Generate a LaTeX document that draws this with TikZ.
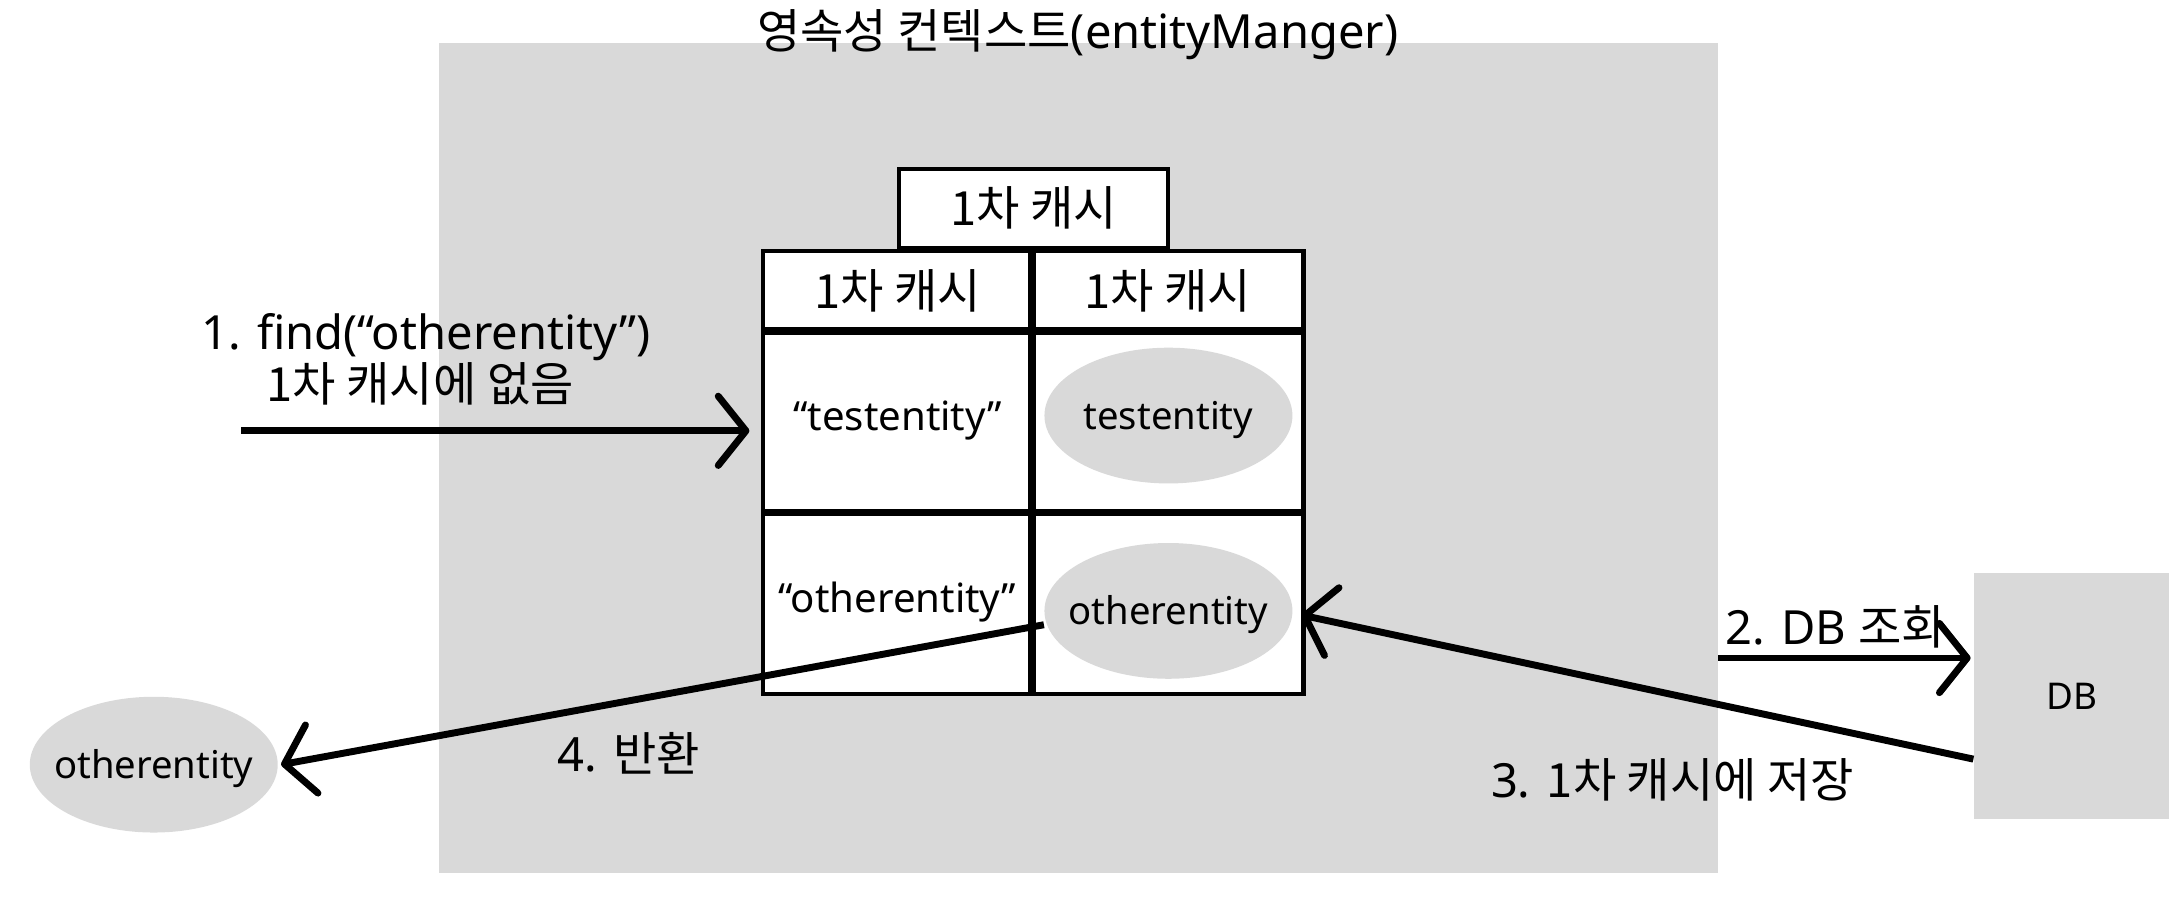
\documentclass[tikz,border=0pt]{standalone}
\usepackage{fontspec}
\setmainfont{Noto Sans}
\newfontfamily\kr{Noto Sans CJK KR}
\usetikzlibrary{arrows.meta,shapes.geometric}
\definecolor{bggray}{HTML}{D9D9D9}
\tikzset{
  lbl/.style={anchor=base west, inner sep=0pt, font=\fontsize{17pt}{20pt}\selectfont},
  hdrtxt/.style={anchor=base, inner sep=0pt, font=\fontsize{17pt}{20pt}\selectfont},
  celltxt/.style={anchor=base, inner sep=0pt, font=\fontsize{14.5pt}{17pt}\selectfont},
  ent/.style={ellipse, fill=bggray, inner sep=0pt, minimum width=89.5pt, minimum height=49pt,
    label={[font=\fontsize{13.8pt}{16pt}\selectfont, inner sep=0pt, yshift=-1.5pt]center:#1}},
  arr/.style={line width=2.5pt, -{Straight Barb[length=10pt,width=25pt,round]}},
  thick line/.style={line width=2.7pt},
}
\begin{document}
\begin{tikzpicture}[x=0.5pt,y=-0.5pt]
\useasboundingbox (0,0) rectangle (1568,650);
% persistence context
\node[fill=bggray, minimum width=461.5pt, minimum height=299.5pt, inner sep=0pt] (ctx) at (778.5,330.5) {};
\node[anchor=base, inner sep=0pt, font=\fontsize{17pt}{20pt}\selectfont] (title) at (778,35) {{\kr 영속성 컨텍스트}(entityManger)};
% DB
\node[fill=bggray, minimum width=70.5pt, minimum height=88.5pt, inner sep=0pt, font=\fontsize{13.3pt}{16pt}\selectfont] (db) at (1495.5,502.5) {DB};
% table
\node[draw, fill=white, line width=1.5pt, minimum width=97pt, minimum height=28.5pt, inner sep=0pt] (hdr) at (746,150.5) {};
\node[hdrtxt] (hdrt) at (746,163) {\kr 1차 캐시};
\node[draw, fill=white, line width=1.5pt, minimum width=195pt, minimum height=160pt, inner sep=0pt] (tbl) at (746,341) {};
\draw[thick line] (745,181) -- (745,501);
\draw[thick line] (tbl.west |- 0,239) -- (tbl.east |- 0,239);
\draw[thick line] (tbl.west |- 0,370) -- (tbl.east |- 0,370);
\node[hdrtxt] (hl) at (648,223) {\kr 1차 캐시};
\node[hdrtxt] (hr) at (843,223) {\kr 1차 캐시};
\node[celltxt] (k1) at (648,311) {“testentity”};
\node[celltxt] (k2) at (648,442) {“otherentity”};
\node[ent=testentity] (e1) at (843.5,300) {};
\node[ent=otherentity] (e2) at (843.5,441) {};
\node[ent=otherentity] (out) at (111,552) {};
% connectors
\coordinate (a1s) at (174,311);
\coordinate (a1e) at (541,311);
\draw[arr] (a1s) -- (a1e);
\draw[arr, shorten >=1pt] (ctx.east |- 0,475) -- (db.west |- 0,475);
\draw[arr] ([yshift=-22.75pt]db.west) -- ([xshift=3pt,yshift=-1.5pt]e2.east);
\draw[arr] ([yshift=-5pt]e2.west) -- ([xshift=1pt]out.east);
% labels
\node[lbl] (l1a) at (145,252) {1. find(“otherentity”)};
\node[lbl] (l1b) at (192,290) {{\kr 1차 캐시에 없음}};
\node[lbl] (l2) at (1245,465) {2. DB {\kr 조회}};
\node[lbl] (l3) at (1076,576) {3. {\kr 1차 캐시에 저장}};
\node[lbl] (l4) at (402,557) {4. {\kr 반환}};
\end{tikzpicture}
\end{document}
